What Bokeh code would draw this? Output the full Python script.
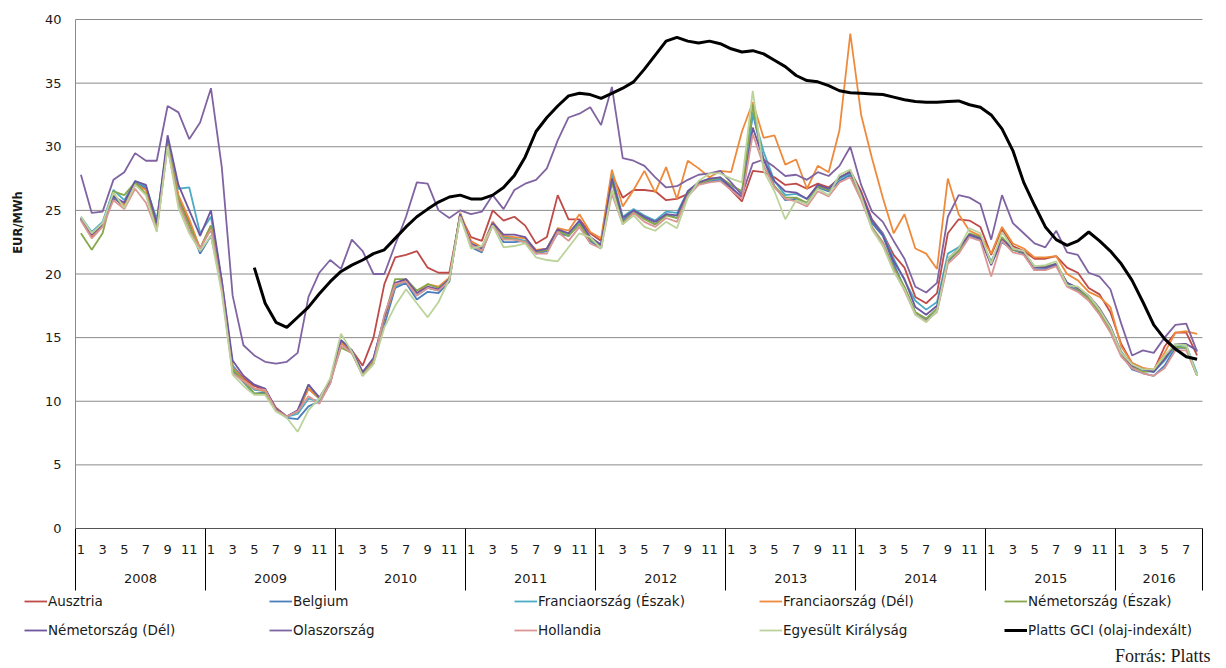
import numpy as np
from math import pi
from bokeh.plotting import figure
from bokeh.models import Range1d, LinearAxis, FixedTicker, Legend, LegendItem, Label
from bokeh.embed import file_html
from bokeh.resources import INLINE

# ---------------- data (monthly, Jan 2008 - Aug 2016), EUR/MWh ----------------
years = ["2008", "2009", "2010", "2011", "2012", "2013", "2014", "2015", "2016"]
months_in_year = [12, 12, 12, 12, 12, 12, 12, 12, 8]

ausztria = [
    24.3, 22.9, 23.9, 26.0, 25.3, 27.0, 26.7, 23.8, 30.3, 26.0, 24.0, 22.0,
    23.8, 19.0, 12.8, 11.8, 11.2, 10.9, 9.5, 8.8, 9.2, 11.0, 10.2, 11.6,
    14.6, 14.0, 12.8, 15.0, 19.2, 21.3, 21.5, 21.8, 20.5, 20.1, 20.1, 24.6,
    22.9, 22.6, 25.0, 24.2, 24.5, 23.8, 22.4, 22.9, 26.2, 24.3, 24.3, 23.2,
    22.6, 27.8, 26.0, 26.6, 26.6, 26.5, 25.8, 25.9, 26.3, 27.1, 27.5, 27.5,
    26.6, 25.7, 28.1, 28.0, 27.6, 27.0, 27.1, 26.7, 27.1, 26.8, 27.5, 28.1,
    26.5, 24.3, 23.2, 21.5, 20.5, 18.2, 17.7, 18.5, 23.2, 24.3, 24.2, 23.7,
    21.5, 23.5, 22.2, 21.8, 21.2, 21.2, 21.4, 20.5, 20.1, 18.9, 18.4, 17.0,
    14.5, 13.0, 12.6, 12.4, 14.3, 15.4, 15.4, 13.6]
belgium = [
    24.3, 23.0, 23.8, 26.0, 25.4, 27.2, 26.8, 24.0, 30.5, 25.8, 23.8, 21.6,
    23.0, 19.0, 12.4, 11.5, 10.6, 10.7, 9.3, 8.7, 8.6, 9.6, 10.0, 11.4,
    14.7, 13.8, 12.1, 13.0, 16.0, 18.9, 19.3, 18.0, 18.6, 18.5, 19.4, 24.8,
    22.1, 21.7, 24.0, 22.5, 22.5, 22.6, 21.6, 21.8, 23.2, 23.0, 24.0, 22.6,
    22.0, 27.6, 24.2, 25.0, 24.4, 23.9, 24.7, 24.4, 26.3, 27.1, 27.3, 27.4,
    26.8, 26.0, 32.6, 29.0, 26.9, 25.8, 25.9, 25.5, 26.8, 26.5, 27.3, 27.8,
    26.0, 24.0, 23.0, 20.8, 18.9, 17.0, 16.4, 17.1, 21.0, 21.8, 23.0, 22.7,
    20.9, 22.5, 21.9, 21.6, 20.3, 20.4, 20.7, 19.1, 18.7, 18.1, 17.0, 15.6,
    13.7, 12.5, 12.2, 12.0, 12.8, 14.2, 14.2, 12.0]
francia_eszak = [
    24.5, 23.3, 24.1, 26.6, 25.8, 27.3, 26.9, 24.3, 30.3, 26.7, 26.8, 23.2,
    24.5, 19.5, 12.8, 11.6, 10.9, 10.8, 9.4, 8.8, 9.0, 10.2, 10.0, 11.5,
    14.8, 14.0, 12.3, 13.3, 16.6, 19.0, 19.5, 18.3, 18.9, 18.7, 19.6, 24.7,
    22.4, 22.0, 24.1, 22.9, 22.8, 22.6, 21.8, 22.0, 23.5, 23.0, 24.1, 22.8,
    22.3, 27.8, 24.5, 25.1, 24.6, 24.2, 24.9, 24.8, 26.5, 27.2, 27.4, 27.5,
    27.0, 26.4, 32.7, 29.6, 27.3, 26.2, 26.3, 25.9, 26.9, 26.7, 27.5, 27.9,
    26.1, 24.2, 23.2, 21.2, 19.5, 17.9, 17.2, 17.8, 21.6, 22.1, 23.1, 22.8,
    21.0, 22.8, 22.0, 21.7, 20.5, 20.5, 20.8, 19.3, 18.9, 18.2, 17.1, 15.8,
    13.9, 12.8, 12.4, 12.3, 13.2, 14.3, 14.4, 12.2]
francia_del = [
    24.4, 23.0, 23.9, 26.2, 25.4, 27.1, 26.6, 24.0, 30.2, 26.2, 24.3, 22.0,
    23.8, 19.0, 12.6, 11.7, 11.0, 10.8, 9.4, 8.8, 9.2, 11.0, 10.2, 11.5,
    14.6, 14.0, 12.2, 13.2, 16.5, 19.1, 19.6, 18.5, 19.2, 19.0, 19.7, 24.8,
    22.6, 22.1, 24.1, 23.0, 22.9, 22.8, 21.9, 22.0, 23.6, 23.4, 24.7, 23.3,
    22.8, 28.2, 25.3, 26.6, 28.1, 26.4, 28.4, 25.9, 28.9, 28.3, 27.6, 28.1,
    28.0, 31.2, 33.5, 30.7, 30.9, 28.6, 29.0, 26.7, 28.5, 28.0, 31.3, 38.9,
    32.5, 29.1, 26.0, 23.2, 24.7, 22.0, 21.6, 20.4, 27.5, 24.7, 23.4, 23.0,
    21.6, 23.7, 22.4, 22.0, 21.3, 21.3, 21.4, 20.0, 19.5, 18.6, 18.2, 17.4,
    14.3, 13.0, 12.6, 12.5, 13.8, 15.4, 15.5, 15.3]
nemet_eszak = [
    23.2, 21.9, 23.2, 26.5, 26.2, 27.2, 26.3, 23.5, 30.2, 25.8, 23.8, 22.0,
    23.8, 19.0, 12.5, 11.6, 10.6, 10.6, 9.3, 8.8, 9.2, 11.3, 10.2, 11.6,
    14.2, 13.8, 12.1, 13.1, 16.6, 19.6, 19.6, 18.7, 19.2, 18.9, 19.6, 24.6,
    22.3, 21.8, 23.9, 22.8, 22.7, 22.5, 21.7, 21.9, 23.4, 23.0, 23.9, 22.7,
    22.2, 27.2, 24.0, 24.9, 24.3, 23.9, 24.6, 24.4, 26.4, 27.1, 27.4, 27.6,
    27.0, 26.5, 33.3, 28.5, 26.9, 26.0, 26.0, 25.6, 26.9, 26.6, 27.6, 28.0,
    26.0, 23.7, 22.5, 20.5, 19.0, 17.0, 16.5, 17.3, 21.1, 21.8, 23.2, 22.9,
    20.8, 22.9, 21.9, 21.7, 20.6, 20.6, 20.8, 19.3, 18.8, 18.1, 17.0, 15.6,
    13.7, 12.7, 12.3, 12.4, 13.5, 14.3, 14.2, 12.0]
nemet_del = [
    24.4, 23.1, 23.9, 26.1, 25.6, 27.3, 27.0, 24.0, 30.9, 27.0, 25.0, 23.0,
    25.0, 19.5, 13.2, 12.0, 11.3, 11.0, 9.4, 8.8, 9.3, 11.3, 10.3, 11.6,
    14.8, 14.0, 12.3, 13.4, 16.6, 19.3, 19.6, 18.5, 19.0, 18.8, 19.6, 24.7,
    22.4, 22.0, 24.0, 23.1, 23.1, 22.9, 21.8, 22.0, 23.5, 23.2, 24.2, 22.9,
    22.3, 27.5, 24.4, 25.0, 24.5, 24.1, 24.7, 24.6, 26.5, 27.2, 27.5, 27.6,
    26.8, 26.0, 31.5, 29.0, 27.3, 26.5, 26.4, 25.9, 27.0, 26.7, 27.6, 28.0,
    26.3, 24.2, 23.1, 21.0, 19.6, 17.4, 16.8, 17.5, 21.2, 22.0, 23.1, 22.8,
    20.7, 22.7, 22.0, 21.7, 20.5, 20.5, 20.8, 19.3, 18.9, 18.3, 17.3, 15.9,
    13.8, 12.8, 12.5, 12.3, 13.3, 14.5, 14.5, 14.0]
olasz = [
    27.8, 24.8, 24.9, 27.4, 28.0, 29.5, 28.9, 28.9, 33.2, 32.7, 30.6, 31.9,
    34.6, 28.4, 18.3, 14.4, 13.6, 13.1, 12.95, 13.1, 13.8, 18.2, 20.1, 21.1,
    20.4, 22.7, 21.8, 20.0, 20.0, 22.3, 24.5, 27.2, 27.1, 25.0, 24.4, 25.0,
    24.7, 24.9, 26.2, 25.1, 26.6, 27.1, 27.4, 28.3, 30.5, 32.3, 32.6, 33.1,
    31.7, 34.7, 29.1, 28.9, 28.5, 27.6, 26.8, 26.9, 27.4, 27.8, 27.9, 28.1,
    27.2, 26.2, 28.7, 29.0, 28.4, 27.7, 27.8, 27.4, 28.0, 27.7, 28.5, 30.0,
    27.0, 24.9, 24.1, 22.6, 21.2, 19.0, 18.55, 19.3, 24.5, 26.2, 26.0, 25.5,
    22.7, 26.2, 24.0, 23.2, 22.4, 22.1, 23.4, 21.7, 21.5, 20.1, 19.8, 18.8,
    16.1, 13.6, 14.0, 13.8, 15.0, 16.0, 16.1, 13.9]
hollandia = [
    24.2, 22.8, 23.7, 25.8, 25.1, 26.7, 25.6, 23.4, 30.0, 25.5, 23.4, 22.0,
    23.5, 18.8, 12.2, 11.6, 11.0, 10.9, 9.3, 8.8, 9.2, 10.4, 9.8, 11.4,
    14.4, 13.8, 12.0, 13.0, 16.8, 19.2, 19.4, 18.3, 18.9, 18.7, 19.5, 24.5,
    22.3, 21.8, 23.8, 22.7, 22.7, 22.5, 21.6, 21.6, 23.3, 22.6, 23.7, 22.4,
    22.0, 26.3, 23.9, 24.8, 24.1, 23.7, 24.4, 24.1, 26.1, 27.0, 27.2, 27.3,
    26.6, 25.9, 31.0, 28.5, 26.8, 25.9, 25.7, 25.3, 26.5, 26.1, 27.2, 27.6,
    25.8, 23.6, 22.4, 20.3, 18.7, 16.8, 16.3, 17.0, 20.8, 21.6, 22.9, 22.6,
    19.8, 22.6, 21.7, 21.5, 20.3, 20.3, 20.6, 19.0, 18.6, 17.9, 16.8, 15.4,
    13.5, 12.6, 12.2, 12.0, 12.6, 14.0, 14.0, 12.0]
egyesult_kiralysag = [
    24.5, 23.2, 24.0, 26.4, 25.2, 27.0, 26.2, 23.3, 30.0, 25.2, 23.2, 21.8,
    23.0, 18.5, 12.1, 11.2, 10.5, 10.5, 9.2, 8.7, 7.6, 9.3, 10.2, 11.8,
    15.3, 13.9, 12.0, 12.9, 15.8, 17.5, 18.8, 17.7, 16.6, 17.8, 19.6, 24.5,
    22.0, 22.2, 23.8, 22.1, 22.2, 22.4, 21.3, 21.1, 21.0, 22.1, 23.2, 22.9,
    22.0, 26.6, 23.9, 24.6, 23.7, 23.4, 24.1, 23.6, 26.0, 27.3, 27.9, 27.9,
    27.5, 27.2, 34.4, 28.1, 26.5, 24.3, 25.8, 25.5, 26.7, 26.2, 27.8, 28.2,
    26.1, 23.5, 22.2, 20.2, 18.8, 16.8, 16.2, 17.1, 21.2, 22.0, 23.6, 23.2,
    20.8, 23.3, 22.0, 21.8, 20.6, 20.7, 21.0, 19.1, 19.0, 18.3, 17.2, 15.8,
    13.8, 12.9, 12.5, 12.5, 13.6, 14.5, 14.4, 12.0]
platts_gci = [
    None, None, None, None, None, None, None, None, None, None, None, None,
    None, None, None, None, 20.5, 17.7, 16.2, 15.8, 16.6, 17.4, 18.45, 19.4,
    20.2, 20.7, 21.1, 21.6, 21.9, 22.8, 23.7, 24.5, 25.1, 25.65, 26.05, 26.2,
    25.9, 25.9, 26.2, 26.8, 27.75, 29.2, 31.2, 32.3, 33.2, 34.0, 34.2, 34.1,
    33.8, 34.2, 34.6, 35.1, 36.1, 37.2, 38.3, 38.6, 38.3, 38.15, 38.3, 38.1,
    37.7, 37.45, 37.55, 37.3, 36.8, 36.3, 35.6, 35.2, 35.1, 34.8, 34.4, 34.25,
    34.2, 34.15, 34.1, 33.9, 33.7, 33.55, 33.5, 33.5, 33.55, 33.6, 33.3, 33.1,
    32.5, 31.4, 29.7, 27.2, 25.4, 23.7, 22.7, 22.25, 22.6, 23.3, 22.6, 21.8,
    20.8, 19.5, 17.8, 16.0, 14.9, 14.1, 13.5, 13.3]

series_names = ["Ausztria", "Belgium", "Franciaország (Észak)", "Franciaország (Dél)",
                "Németország (Észak)", "Németország (Dél)", "Olaszország", "Hollandia",
                "Egyesült Királyság", "Platts GCI (olaj-indexált)"]
series_values = [ausztria, belgium, francia_eszak, francia_del, nemet_eszak,
                 nemet_del, olasz, hollandia, egyesult_kiralysag, platts_gci]
y_ticks = [0, 5, 10, 15, 20, 25, 30, 35, 40]
source_text = "Forrás: Platts"
y_title = "EUR/MWh"

# ---------------- styling / geometry ----------------
colors = ["#BE4B48", "#4A7EBB", "#4BACC6", "#EE8A3C", "#86A84A",
          "#6F56A0", "#8064A2", "#D99694", "#BBD39A", "#000000"]
widths = [1.8] * 9 + [3.0]
FONT = "DejaVu Sans"
TXT = "#1a1a1a"
GRID = "#8a8a8a"

W, H = 1218, 666                      # canvas (page margin is 0)
PLOT_L, PLOT_R, PLOT_T, PLOT_B = 75, 1202, 19, 528   # plot area on the page

n = sum(months_in_year)
x = np.arange(n)
y_min, y_max = y_ticks[0], y_ticks[-1]
kx = (PLOT_R - PLOT_L) / n
ky = (PLOT_B - PLOT_T) / (y_max - y_min)
x0, x1 = -0.5, n - 0.5

# month ticks (odd months) and year groups
month_ticks, month_labels = [], {}
boundaries = [x0 + 1e-6]
year_centers, year_labels = [], {}
start = 0
for yr, m in zip(years, months_in_year):
    for k in range(0, m, 2):
        month_ticks.append(start + k)
        month_labels[start + k] = str(k + 1)
    c = start - 0.5 + m / 2.0
    year_centers.append(c)
    year_labels[c] = yr
    start += m
    boundaries.append(start - 0.5 - (1e-6 if start == n else 0))

# the frame covers the whole canvas; the plot area is placed inside it
p = figure(width=W, height=H, title=None,
           x_range=Range1d(x0 - PLOT_L / kx, x0 + (W - PLOT_L) / kx),
           y_range=Range1d(y_min - (H - PLOT_B) / ky, y_min + PLOT_B / ky),
           output_backend="svg", toolbar_location=None,
           min_border=0, min_border_left=0, min_border_right=0,
           min_border_top=0, min_border_bottom=0)
p.outline_line_color = None
p.xgrid.visible = False
p.ygrid.visible = False

# horizontal gridlines across the plot area only
p.segment(x0=[x0] * len(y_ticks), x1=[x1] * len(y_ticks), y0=y_ticks, y1=y_ticks,
          line_color=GRID, line_width=1)

# y axis (drawn at the left edge of the plot area)
yax = p.yaxis[0]
yax.fixed_location = x0
yax.bounds = (y_min, y_max)
yax.ticker = FixedTicker(ticks=y_ticks)
yax.major_tick_out = 0
yax.major_tick_in = 0
yax.minor_tick_out = 0
yax.minor_tick_in = 0
yax.axis_line_color = GRID
yax.major_label_text_font = FONT
yax.major_label_text_font_size = "13px"
yax.major_label_text_color = TXT
yax.major_label_standoff = 14

# x axis 1 : months
ax1 = p.xaxis[0]
ax1.fixed_location = y_min
ax1.bounds = (x0, x1)
ax1.ticker = FixedTicker(ticks=month_ticks)
ax1.major_label_overrides = month_labels
ax1.major_tick_out = 0
ax1.major_tick_in = 0
ax1.minor_tick_out = 0
ax1.minor_tick_in = 0
ax1.axis_line_color = "#555555"
ax1.major_label_text_font = FONT
ax1.major_label_text_font_size = "13px"
ax1.major_label_text_color = TXT
ax1.major_label_standoff = 16

# x axis 2 : years, with the year separators
ax2 = LinearAxis(ticker=FixedTicker(ticks=year_centers, minor_ticks=boundaries),
                 major_label_overrides=year_labels, fixed_location=y_min,
                 bounds=(x0, x1))
ax2.axis_line_color = None
ax2.major_tick_out = 0
ax2.major_tick_in = 0
ax2.minor_tick_in = 0
ax2.minor_tick_out = 62
ax2.minor_tick_line_color = "#000000"
ax2.major_label_text_font = FONT
ax2.major_label_text_font_size = "13px"
ax2.major_label_text_color = TXT
ax2.major_label_standoff = -17
p.add_layout(ax2, "below")

# lines
items = []
for name, vals, col, w in zip(series_names, series_values, colors, widths):
    y = np.array([np.nan if v is None else v for v in vals], dtype=float)
    r = p.line(x, y, line_color=col, line_width=w)
    items.append(LegendItem(label=name, renderers=[r]))

legend = Legend(items=items, orientation="horizontal", ncols=5,
                location=(24, H - 639), padding=0, margin=0, spacing=11,
                glyph_width=23, glyph_height=18, label_height=18,
                label_width=210, label_standoff=1,
                label_text_font=FONT, label_text_font_size="13.5px",
                label_text_color=TXT,
                border_line_color=None, background_fill_alpha=0)
p.add_layout(legend, "center")

# y title
p.add_layout(Label(x=17, y=H - 222, x_units="screen", y_units="screen",
                   text=y_title, angle=pi / 2, text_align="center",
                   text_baseline="middle", text_font=FONT,
                   text_font_size="11.5px", text_font_style="bold",
                   text_color=TXT))

# source note
p.add_layout(Label(x=1210, y=H - 655, x_units="screen", y_units="screen",
                   text=source_text, text_align="right", text_baseline="middle",
                   text_font="Liberation Serif", text_font_size="18px",
                   text_color=TXT))

open("out.html", "w").write(file_html(p, INLINE))
